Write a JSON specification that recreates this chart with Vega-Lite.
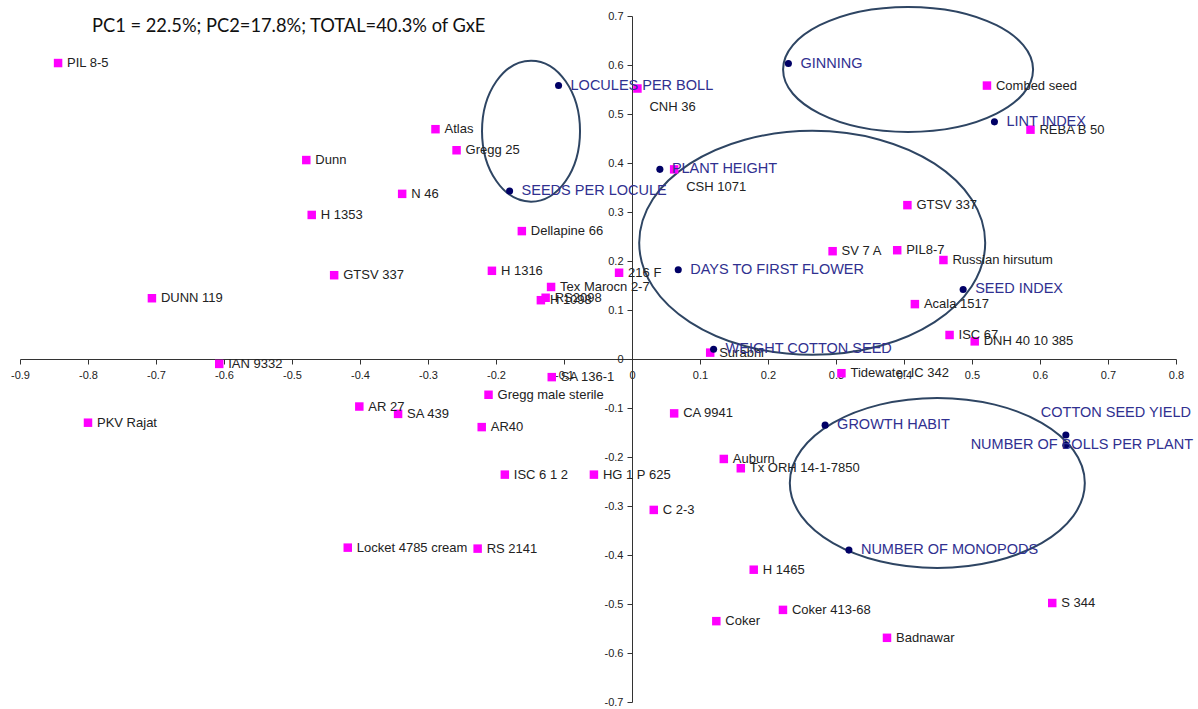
{
  "$schema": "https://vega.github.io/schema/vega-lite/v6.json",
  "width": 1156,
  "height": 686,
  "autosize": {"type": "none"},
  "padding": {"left": 20, "top": 16, "right": 22, "bottom": 7},
  "background": "white",
  "view": {"stroke": null},
  "title": {
    "text": "PC1 = 22.5%; PC2=17.8%; TOTAL=40.3% of GxE",
    "anchor": "start", "frame": "group", "orient": "top",
    "offset": -47, "dx": 72, "baseline": "alphabetic",
    "font": "Lato", "fontSize": 18.3, "fontWeight": "normal", "color": "#111111"
  },
  "datasets": {
    "genotypes": [
      {"name": "PIL 8-5", "x": -0.844, "y": 0.604},
      {"name": "Dunn", "x": -0.479, "y": 0.406},
      {"name": "Atlas", "x": -0.289, "y": 0.469},
      {"name": "Gregg 25", "x": -0.258, "y": 0.426},
      {"name": "N 46", "x": -0.338, "y": 0.337},
      {"name": "H 1353", "x": -0.471, "y": 0.294},
      {"name": "GTSV 337", "x": -0.438, "y": 0.171},
      {"name": "DUNN 119", "x": -0.706, "y": 0.124},
      {"name": "IAN 9332", "x": -0.607, "y": -0.010},
      {"name": "Dellapine 66", "x": -0.162, "y": 0.261},
      {"name": "H 1316", "x": -0.206, "y": 0.180},
      {"name": "Tex Marocn 2-7", "x": -0.119, "y": 0.147},
      {"name": "RS2098", "x": -0.127, "y": 0.125},
      {"name": "H 1098", "x": -0.134, "y": 0.120},
      {"name": "216 F", "x": -0.019, "y": 0.176},
      {"name": "Surabhi", "x": 0.115, "y": 0.013},
      {"name": "SA 136-1", "x": -0.118, "y": -0.037},
      {"name": "Gregg male sterile", "x": -0.211, "y": -0.073},
      {"name": "AR 27", "x": -0.401, "y": -0.097},
      {"name": "PKV Rajat", "x": -0.800, "y": -0.130},
      {"name": "SA 439", "x": -0.344, "y": -0.112},
      {"name": "AR40", "x": -0.221, "y": -0.139},
      {"name": "ISC 6 1 2", "x": -0.187, "y": -0.236},
      {"name": "HG 1 P 625", "x": -0.056, "y": -0.236},
      {"name": "Locket 4785 cream", "x": -0.418, "y": -0.385},
      {"name": "RS 2141", "x": -0.227, "y": -0.387},
      {"name": "CA 9941", "x": 0.062, "y": -0.111},
      {"name": "Auburn", "x": 0.135, "y": -0.204},
      {"name": "Tx ORH 14-1-7850", "x": 0.160, "y": -0.223},
      {"name": "C 2-3", "x": 0.032, "y": -0.308},
      {"name": "H 1465", "x": 0.179, "y": -0.430},
      {"name": "Coker 413-68", "x": 0.222, "y": -0.512},
      {"name": "Coker", "x": 0.124, "y": -0.535},
      {"name": "Badnawar", "x": 0.375, "y": -0.569},
      {"name": "S 344", "x": 0.618, "y": -0.498},
      {"name": "CNH 36", "x": 0.008, "y": 0.552},
      {"name": "CSH 1071", "x": 0.062, "y": 0.387},
      {"name": "Combed seed", "x": 0.522, "y": 0.558},
      {"name": "REBA B 50", "x": 0.586, "y": 0.468},
      {"name": "GTSV 337", "x": 0.405, "y": 0.314},
      {"name": "SV 7 A", "x": 0.295, "y": 0.220},
      {"name": "PIL8-7", "x": 0.390, "y": 0.222},
      {"name": "Russian hirsutum", "x": 0.458, "y": 0.202},
      {"name": "Acala 1517", "x": 0.416, "y": 0.112},
      {"name": "ISC 67", "x": 0.467, "y": 0.049},
      {"name": "DNH 40 10 385", "x": 0.504, "y": 0.036},
      {"name": "Tidewater IC 342", "x": 0.308, "y": -0.029}
    ],
    "traits": [
      {"name": "LOCULES PER BOLL", "x": -0.108, "y": 0.558},
      {"name": "SEEDS PER LOCULE", "x": -0.180, "y": 0.343},
      {"name": "PLANT HEIGHT", "x": 0.041, "y": 0.387},
      {"name": "GINNING", "x": 0.230, "y": 0.603},
      {"name": "LINT INDEX", "x": 0.533, "y": 0.484},
      {"name": "DAYS TO FIRST FLOWER", "x": 0.068, "y": 0.182},
      {"name": "SEED INDEX", "x": 0.487, "y": 0.142},
      {"name": "WEIGHT COTTON SEED", "x": 0.120, "y": 0.020},
      {"name": "GROWTH HABIT", "x": 0.284, "y": -0.135},
      {"name": "COTTON SEED YIELD", "x": 0.638, "y": -0.155},
      {"name": "NUMBER OF BOLLS PER PLANT", "x": 0.638, "y": -0.176},
      {"name": "NUMBER OF MONOPODS", "x": 0.319, "y": -0.390}
    ],
    "ellipses": [
      {"id": "E1", "x": -0.1485, "y": 0.465},
      {"id": "E2", "x": 0.406, "y": 0.591},
      {"id": "E3", "x": 0.265, "y": 0.237},
      {"id": "E4", "x": 0.449, "y": -0.253}
    ]
  },
  "encoding": {
    "x": {
      "field": "x", "type": "quantitative",
      "scale": {"domain": [-0.9, 0.8], "nice": false, "zero": false},
      "axis": {
        "orient": "bottom", "offset": -343, "title": null, "grid": false,
        "values": [-0.9, -0.8, -0.7, -0.6, -0.5, -0.4, -0.3, -0.2, -0.1, 0, 0.1, 0.2, 0.3, 0.4, 0.5, 0.6, 0.7, 0.8],
        "labelExpr": "replace(format(datum.value, '.1~f'), '\u2212', '-')",
        "labelFlush": false, "labelOverlap": false, "labelBound": false,
        "tickSize": 5, "labelPadding": 5,
        "domainColor": "#333333", "tickColor": "#333333", "labelColor": "#222222",
        "labelFont": "Liberation Sans", "labelFontSize": 11
      }
    },
    "y": {
      "field": "y", "type": "quantitative",
      "scale": {"domain": [-0.7, 0.7], "nice": false, "zero": false},
      "axis": {
        "orient": "left", "offset": -612, "title": null, "grid": false,
        "values": [-0.7, -0.6, -0.5, -0.4, -0.3, -0.2, -0.1, 0, 0.1, 0.2, 0.3, 0.4, 0.5, 0.6, 0.7],
        "labelExpr": "replace(format(datum.value, '.1~f'), '\u2212', '-')",
        "labelFlush": false, "labelOverlap": false, "labelBound": false,
        "tickSize": 5, "labelPadding": 4,
        "domainColor": "#333333", "tickColor": "#333333", "labelColor": "#222222",
        "labelFont": "Liberation Sans", "labelFontSize": 11
      }
    }
  },
  "layer": [
    {
      "data": {"name": "ellipses"},
      "mark": {"type": "point", "filled": false, "size": 4, "strokeWidth": 2, "color": "#2E4563", "opacity": 1},
      "encoding": {
        "shape": {
          "field": "id", "type": "nominal", "legend": null,
          "scale": {
            "domain": ["E1", "E2", "E3", "E4"],
            "range": [
              "M -49 0 A 49 70.5 0 1 0 49 0 A 49 70.5 0 1 0 -49 0 Z",
              "M -125 0 A 125 62.5 0 1 0 125 0 A 125 62.5 0 1 0 -125 0 Z",
              "M -173 0 A 173 112 0 1 0 173 0 A 173 112 0 1 0 -173 0 Z",
              "M -147.5 0 A 147.5 85 0 1 0 147.5 0 A 147.5 85 0 1 0 -147.5 0 Z"
            ]
          }
        }
      }
    },
    {
      "data": {"name": "genotypes"},
      "mark": {"type": "square", "size": 72, "color": "#FF00FF", "opacity": 1}
    },
    {
      "data": {"name": "traits"},
      "mark": {"type": "circle", "size": 50, "color": "#000066", "opacity": 1}
    },
    {
      "data": {"name": "genotypes"},
      "transform": [{"filter": {"not": {"field": "name", "oneOf": ["CNH 36", "CSH 1071"]}}}],
      "mark": {"type": "text", "align": "left", "baseline": "middle", "dx": 9, "font": "Liberation Sans", "fontSize": 13, "color": "#222222"},
      "encoding": {"text": {"field": "name"}}
    },
    {
      "data": {"name": "genotypes"},
      "transform": [{"filter": {"field": "name", "oneOf": ["CNH 36", "CSH 1071"]}}],
      "mark": {"type": "text", "align": "left", "baseline": "middle", "dx": 12, "dy": 18, "font": "Liberation Sans", "fontSize": 13, "color": "#222222"},
      "encoding": {"text": {"field": "name"}}
    },
    {
      "data": {"name": "traits"},
      "transform": [{"filter": {"not": {"field": "name", "oneOf": ["COTTON SEED YIELD", "NUMBER OF BOLLS PER PLANT"]}}}],
      "mark": {"type": "text", "align": "left", "baseline": "middle", "dx": 12, "font": "Liberation Sans", "fontSize": 14.5, "color": "#303090"},
      "encoding": {"text": {"field": "name"}}
    },
    {
      "data": {"name": "traits"},
      "transform": [{"filter": {"field": "name", "equal": "COTTON SEED YIELD"}}],
      "mark": {"type": "text", "align": "center", "baseline": "middle", "dx": 50, "dy": -22, "font": "Liberation Sans", "fontSize": 14.5, "color": "#303090"},
      "encoding": {"text": {"field": "name"}}
    },
    {
      "data": {"name": "traits"},
      "transform": [{"filter": {"field": "name", "equal": "NUMBER OF BOLLS PER PLANT"}}],
      "mark": {"type": "text", "align": "center", "baseline": "middle", "dx": 16, "font": "Liberation Sans", "fontSize": 14.5, "color": "#303090"},
      "encoding": {"text": {"field": "name"}}
    }
  ]
}
